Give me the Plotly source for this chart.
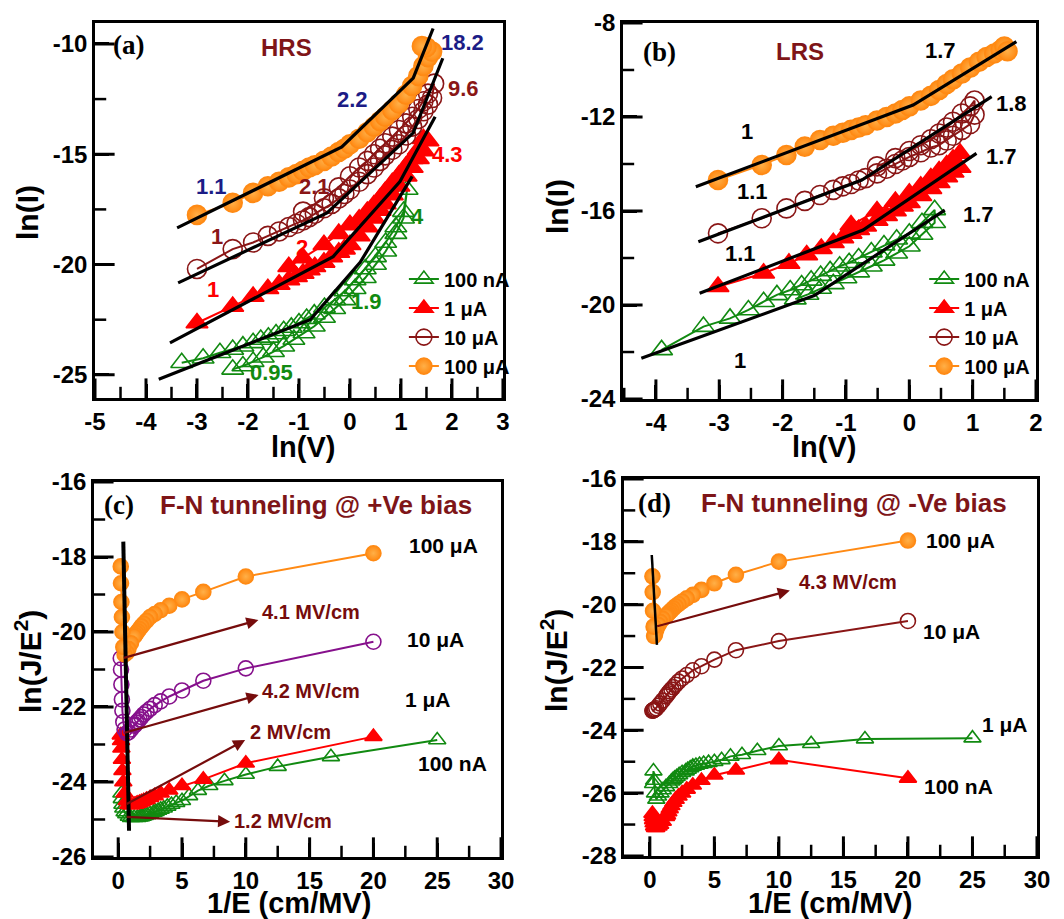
import plotly.graph_objects as go

FONT = "Liberation Sans"
SERIF = "Liberation Serif"

ORANGE = "#FF8A14"
ORANGE_HI = "#FFB048"
MAROON = "#8A1616"
RED = "#FF0000"
GREEN = "#118A11"
PURPLE = "#86108C"
TXT_RED = "#7E1518"
NAVY = "#1C1C86"
ARROW = "#760C0C"

# ---------------- Panel (a): HRS, ln(I) vs ln(V) ----------------
a_100nA_x = [-3.3, -2.88, -2.55, -2.3, -2.1, -1.9, -1.75, -1.6, -1.45, -1.3, -1.15, -1.0, -0.85, -0.7,
             -0.5, -0.3, -0.1, 0.1, 0.3, 0.5, 0.7, 0.9, 1.05, 1.12,
             1.05, 0.9, 0.7, 0.5, 0.3, 0.1, -0.1, -0.3, -0.5, -0.7, -0.9, -1.1, -1.3, -1.5, -1.7, -1.9, -2.1, -2.3]
a_100nA_y = [-24.45, -24.25, -24.0, -23.85, -23.7, -23.55, -23.4, -23.3, -23.15, -23.0, -22.85, -22.65, -22.45, -22.25,
             -21.95, -21.6, -21.2, -20.7, -20.2, -19.65, -19.0, -18.3, -17.6, -16.6,
             -17.9, -18.6, -19.4, -20.0, -20.6, -21.1, -21.6, -22.0, -22.4, -22.8, -23.1, -23.4, -23.7, -23.95, -24.2, -24.4, -24.6, -24.75]

a_1uA_x = [-3.0, -2.3, -1.9, -1.61, -1.39, -1.2, -1.05, -0.92, -0.8, -0.69, -0.51, -0.36, -0.22, -0.11, 0.0,
           0.18, 0.34, 0.47, 0.59, 0.69, 0.83, 0.96, 1.1, 1.22, 1.34, 1.44, 1.53,
           1.44, 1.34, 1.22, 1.1, 0.96, 0.83, 0.69, 0.59, 0.47, 0.34, 0.18, 0.0, -0.22, -0.51, -0.92, -1.2]
a_1uA_y = [-22.65, -21.9, -21.45, -21.1, -20.9, -20.7, -20.55, -20.4, -20.25, -20.1, -19.9, -19.65, -19.45, -19.3, -19.1,
           -18.7, -18.3, -17.9, -17.55, -17.25, -16.85, -16.45, -16.0, -15.6, -15.2, -14.85, -14.4,
           -14.3, -14.8, -15.2, -15.55, -15.95, -16.3, -16.7, -17.0, -17.3, -17.6, -17.95, -18.2, -18.6, -19.1, -19.7, -20.1]

a_10uA_x = [-3.0, -2.3, -1.9, -1.61, -1.39, -1.2, -1.05, -0.92, -0.8, -0.69, -0.51, -0.36, -0.22, -0.11, 0.0,
            0.18, 0.34, 0.47, 0.59, 0.69, 0.83, 0.96, 1.1, 1.22, 1.34, 1.44, 1.53, 1.61, 1.65,
            1.53, 1.44, 1.34, 1.22, 1.1, 0.96, 0.83, 0.69, 0.59, 0.47, 0.34, 0.18, 0.0, -0.22, -0.51, -0.92]
a_10uA_y = [-20.2, -19.3, -19.0, -18.7, -18.5, -18.3, -18.15, -18.0, -17.85, -17.7, -17.45, -17.25, -17.0, -16.8, -16.6,
            -16.25, -15.9, -15.6, -15.3, -15.05, -14.8, -14.55, -14.15, -13.75, -13.4, -13.05, -12.75, -12.45, -11.8,
            -12.25, -12.6, -12.95, -13.3, -13.6, -13.9, -14.2, -14.5, -14.75, -15.0, -15.3, -15.6, -16.0, -16.5, -17.0, -17.6]

a_100uA_x = [-3.0, -2.3, -1.9, -1.61, -1.39, -1.2, -1.05, -0.92, -0.8, -0.69, -0.51, -0.36, -0.22, -0.11, 0.0,
             0.18, 0.34, 0.47, 0.59, 0.69, 0.83, 0.96, 1.1, 1.22, 1.34, 1.44, 1.53, 1.61, 1.5, 1.41]
a_100uA_y = [-17.75, -17.2, -16.75, -16.45, -16.25, -16.05, -15.9, -15.75, -15.6, -15.5, -15.3, -15.1, -14.9, -14.75, -14.55,
             -14.3, -14.0, -13.75, -13.5, -13.3, -13.0, -12.7, -12.3, -11.9, -11.45, -11.0, -10.6, -10.35, -10.15, -10.1]

# piecewise linear fits (a)
a_fit_100uA_x = [-3.39, -0.16, 1.24, 1.63]
a_fit_100uA_y = [-18.34, -14.67, -11.55, -9.3]
a_fit_10uA_x = [-3.37, -0.45, 1.24, 1.82]
a_fit_10uA_y = [-20.83, -17.66, -14.03, -10.65]
a_fit_1uA_x = [-3.53, -0.33, 0.98, 1.67]
a_fit_1uA_y = [-23.55, -19.64, -16.24, -13.3]
a_fit_100nA_x = [-3.75, -0.78, 0.2, 1.22]
a_fit_100nA_y = [-25.2, -22.5, -19.9, -16.0]

# slope labels (a)
a_slope_text = ["18.2", "2.2", "1.1", "9.6", "2.1", "1", "4.3", "2", "1", "4", "1.9", "0.95"]
a_slope_x = [2.2, 0.04, -2.71, 2.22, -0.69, -2.61, 1.92, -0.94, -2.69, 1.33, 0.33, -1.53]
a_slope_y = [-9.95, -12.54, -16.48, -12.04, -16.48, -18.74, -15.03, -19.24, -21.15, -17.84, -21.69, -24.91]
a_slope_color = [NAVY, NAVY, NAVY, MAROON, MAROON, MAROON, RED, RED, RED, GREEN, GREEN, GREEN]

# ---------------- Panel (b): LRS ----------------
b_100nA_x = [-3.91, -3.25, -2.83, -2.54, -2.3, -2.09, -1.88, -1.7, -1.55, -1.4, -1.25, -1.1, -0.95, -0.8,
             -0.6, -0.4, -0.2, 0.0, 0.2, 0.4,
             0.4, 0.2, 0.0, -0.2, -0.4, -0.6, -0.8, -1.0, -1.2, -1.4, -1.6, -1.8]
b_100nA_y = [-21.91, -20.92, -20.57, -20.21, -19.86, -19.57, -19.36, -19.15, -18.95, -18.75, -18.55, -18.35, -18.2, -18.0,
             -17.75, -17.45, -17.2, -16.95, -16.5, -15.95,
             -16.5, -17.0, -17.5, -17.8, -18.1, -18.35, -18.6, -18.85, -19.1, -19.3, -19.55, -19.75]

b_1uA_x = [-3.02, -2.3, -1.9, -1.62, -1.39, -1.2, -1.05, -0.92, -0.8, -0.69, -0.51, -0.36, -0.22, -0.11, 0.0,
           0.18, 0.34, 0.47, 0.59, 0.69, 0.8,
           0.8, 0.69, 0.59, 0.47, 0.34, 0.18, 0.0, -0.22, -0.51, -0.92]
b_1uA_y = [-19.22, -18.65, -18.23, -17.87, -17.6, -17.35, -17.15, -16.95, -16.8, -16.65, -16.4, -16.2, -16.0, -15.8, -15.65,
           -15.35, -15.05, -14.8, -14.55, -14.35, -14.15,
           -13.55, -13.8, -14.05, -14.3, -14.6, -14.95, -15.25, -15.6, -16.0, -16.6]

b_10uA_x = [-3.02, -2.33, -1.94, -1.65, -1.41, -1.2, -1.05, -0.92, -0.8, -0.69, -0.51, -0.36, -0.22, -0.11, 0.0,
            0.18, 0.34, 0.47, 0.59, 0.69, 0.83, 0.96, 1.03,
            1.03, 0.96, 0.83, 0.69, 0.59, 0.47, 0.34, 0.18, 0.0, -0.22, -0.51]
b_10uA_y = [-16.95, -16.31, -15.89, -15.57, -15.32, -15.1, -14.95, -14.85, -14.7, -14.6, -14.4, -14.2, -14.0, -13.85, -13.7,
            -13.5, -13.3, -13.2, -13.0, -12.8, -12.55, -12.3, -11.9,
            -11.3, -11.55, -11.85, -12.2, -12.45, -12.7, -12.95, -13.2, -13.45, -13.75, -14.1]

b_100uA_x = [-3.02, -2.33, -1.94, -1.65, -1.41, -1.2, -1.05, -0.92, -0.8, -0.69, -0.51, -0.36, -0.22, -0.11, 0.0,
             0.18, 0.34, 0.47, 0.59, 0.69, 0.83, 0.96, 1.1, 1.22, 1.34, 1.44, 1.5, 1.55]
b_100uA_y = [-14.68, -14.04, -13.62, -13.26, -12.98, -12.8, -12.67, -12.55, -12.45, -12.35, -12.15, -12.0, -11.85, -11.7, -11.55,
             -11.3, -11.1, -10.85, -10.6, -10.4, -10.15, -9.9, -9.65, -9.45, -9.3, -9.15, -9.0, -9.2]

b_fit_100uA_x = [-3.37, 0.06, 1.69]
b_fit_100uA_y = [-14.97, -11.49, -8.79]
b_fit_10uA_x = [-3.33, -0.75, 1.3]
b_fit_10uA_y = [-17.31, -14.68, -11.13]
b_fit_1uA_x = [-3.31, -0.73, 1.06]
b_fit_1uA_y = [-19.5, -16.81, -13.55]
b_fit_100nA_x = [-4.23, -1.5, 0.56]
b_fit_100nA_y = [-22.27, -19.6, -15.96]

b_slope_text = ["1.7", "1", "1.1", "1.8", "1.7", "1.1", "1.7", "1"]
b_slope_x = [0.5, -2.57, -2.47, 1.62, 1.46, -2.67, 1.09, -2.67]
b_slope_y = [-9.15, -12.63, -15.18, -11.42, -13.69, -17.8, -16.17, -22.34]

# ---------------- Panel (c): F-N, +Ve bias ----------------
c_invE_a = [20, 10, 6.67, 5, 4, 3.33, 2.86, 2.5, 2.22, 2.0, 1.82, 1.67, 1.54, 1.43, 1.33, 1.25,
            1.0, 0.8, 0.67, 0.5, 0.4, 0.33, 0.29, 0.25, 0.22, 0.2]
c_invE_b = [25, 16.67, 12.5, 10, 8.33, 7.14, 6.25, 5.56, 5, 4.55, 4.17, 3.85, 3.57, 3.33, 3.13, 2.94, 2.78,
            2.5, 2.27, 2.08, 1.92, 1.79, 1.67, 1.5, 1.25, 1.0, 0.83, 0.63, 0.5, 0.4, 0.33, 0.28, 0.25]
c_100uA_y = [-17.9, -18.52, -18.93, -19.13, -19.3, -19.42, -19.52, -19.6, -19.7, -19.78, -19.85, -19.92, -19.98, -20.03,
             -20.08, -20.12, -20.3, -20.45, -20.55, -20.6, -20.4, -20.0, -19.6, -19.2, -18.7, -18.25]
c_10uA_y = [-20.26, -20.97, -21.3, -21.56, -21.72, -21.85, -21.95, -22.05, -22.13, -22.2, -22.27, -22.33, -22.38, -22.42,
            -22.47, -22.5, -22.6, -22.68, -22.7, -22.6, -22.4, -22.1, -21.8, -21.4, -21.0, -20.7]
c_1uA_y = [-22.79, -23.5, -23.93, -24.1, -24.22, -24.3, -24.37, -24.42, -24.47, -24.5, -24.53, -24.55, -24.57, -24.58,
           -24.6, -24.6, -24.62, -24.6, -24.5, -24.3, -24.0, -23.7, -23.4, -23.1, -22.9, -22.75]
c_100nA_y = [-22.88, -23.33, -23.59, -23.8, -23.97, -24.1, -24.23, -24.37, -24.5, -24.55, -24.6, -24.65, -24.7, -24.73,
             -24.76, -24.79, -24.81, -24.85, -24.88, -24.9, -24.92, -24.93, -24.94, -24.95, -24.95, -24.95, -24.92,
             -24.85, -24.8, -24.7, -24.6, -24.45, -24.3]
c_vline_x = [0.4, 0.85]
c_vline_y = [-17.59, -25.3]
c_arrow_tail_x = [0.33, 0.38, 0.55, 0.55]
c_arrow_tail_y = [-20.7, -22.7, -24.61, -24.93]
c_arrow_head_x = [10.99, 11.0, 9.95, 8.77]
c_arrow_head_y = [-19.68, -21.68, -22.88, -25.06]
c_arrow_text = ["4.1 MV/cm", "4.2 MV/cm", "2 MV/cm", "1.2 MV/cm"]
c_arrow_text_x = [11.1, 11.1, 10.2, 8.9]
c_arrow_text_y = [-19.48, -21.57, -22.66, -25.03]
c_label_text = ["100 μA", "10 μA", "1 μA", "100 nA"]
c_label_x = [25.5, 24.9, 24.3, 26.2]
c_label_y = [-17.68, -20.2, -21.81, -23.5]

# ---------------- Panel (d): F-N, -Ve bias ----------------
d_invE_a = [20, 10, 6.67, 5, 4, 3.33, 2.86, 2.5, 2.22, 2.0, 1.82, 1.67, 1.54, 1.43, 1.33, 1.25,
            1.0, 0.8, 0.67, 0.5, 0.4, 0.33, 0.29, 0.25, 0.22, 0.2]
d_invE_b = [25, 16.67, 12.5, 10, 8.33, 7.14, 6.25, 5.56, 5, 4.55, 4.17, 3.85, 3.57, 3.33, 3.13, 2.94, 2.78,
            2.5, 2.27, 2.08, 1.92, 1.79, 1.67, 1.5, 1.25, 1.0, 0.83, 0.63, 0.5, 0.4, 0.33, 0.28, 0.25]
d_100uA_y = [-17.96, -18.63, -19.05, -19.32, -19.53, -19.69, -19.8, -19.9, -19.98, -20.05, -20.12, -20.18, -20.23,
             -20.28, -20.32, -20.36, -20.45, -20.55, -20.65, -20.8, -20.95, -21.0, -20.7, -20.2, -19.6, -19.1]
d_10uA_y = [-20.52, -21.16, -21.45, -21.75, -21.96, -22.09, -22.24, -22.35, -22.45, -22.55, -22.63, -22.7, -22.76,
            -22.82, -22.87, -22.92, -23.05, -23.15, -23.22, -23.3, -23.33, -23.35, -23.36, -23.37, -23.37, -23.38]
d_1uA_y = [-24.25, -24.28, -24.43, -24.5, -24.65, -24.78, -24.83, -24.94, -25.0, -25.03, -25.06, -25.09, -25.12,
           -25.15, -25.2, -25.25, -25.3, -25.35, -25.42, -25.48, -25.53, -25.58, -25.62, -25.7, -25.8, -25.9,
           -26.0, -26.1, -26.2, -26.0, -25.6, -25.3, -25.7]
d_100nA_y = [-25.53, -24.94, -25.27, -25.43, -25.6, -25.75, -25.88, -26.0, -26.1, -26.2, -26.3, -26.4, -26.5,
             -26.6, -26.7, -26.75, -26.9, -27.0, -27.05, -27.1, -27.1, -27.05, -26.95, -26.85, -26.75, -26.65]
d_vline_x = [0.15, 0.55]
d_vline_y = [-18.42, -21.28]
d_arrow_tail_x = [0.45]
d_arrow_tail_y = [-20.7]
d_arrow_head_x = [10.85]
d_arrow_head_y = [-19.55]
d_arrow_text = ["4.3 MV/cm"]
d_arrow_text_x = [11.4]
d_arrow_text_y = [-19.29]
d_label_text = ["100 μA", "10 μA", "1 μA", "100 nA"]
d_label_x = [24.1, 23.4, 27.5, 23.9]
d_label_y = [-17.95, -20.86, -23.83, -25.79]

# ---------------- axis ticks ----------------
a_xticks = [-5, -4, -3, -2, -1, 0, 1, 2, 3]
a_xminor = [-4.5, -3.5, -2.5, -1.5, -0.5, 0.5, 1.5, 2.5]
a_yticks = [-25, -20, -15, -10]
a_yminor = [-22.5, -17.5, -12.5]
b_xticks = [-4, -3, -2, -1, 0, 1, 2]
b_xminor = [-4.5, -3.5, -2.5, -1.5, -0.5, 0.5, 1.5]
b_yticks = [-24, -20, -16, -12, -8]
b_yminor = [-22, -18, -14, -10]
cd_xticks = [0, 5, 10, 15, 20, 25, 30]
cd_xminor = [2.5, 7.5, 12.5, 17.5, 22.5, 27.5]
c_yticks = [-26, -24, -22, -20, -18, -16]
c_yminor = [-25, -23, -21, -19, -17]
d_yticks = [-28, -26, -24, -22, -20, -18, -16]
d_yminor = [-27, -25, -23, -21, -19, -17]

W, H = 1064.0, 919.0
PANELS = {
    # name: (x domain, x range, y domain, y range)
    "a": ([0.0893, 0.4727], [-5, 3], [0.5669, 0.975], [-26.05, -9.05]),
    "b": ([0.5855, 0.9737], [-4.52, 2], [0.5658, 0.975], [-24, -8]),
    "c": ([0.0883, 0.4709], [-1.9, 30], [0.0675, 0.4755], [-26, -16]),
    "d": ([0.5865, 0.9746], [-2.0, 30], [0.0686, 0.4788], [-28, -16]),
}

fig = go.Figure()


def series(x, y, xa, ya, name, symbol, color, size, legend=None, lw=1.6, sphere=False, line_w=2):
    marker = dict(symbol=symbol, size=size, color=color, line=dict(color=color, width=lw))
    if sphere:
        marker["gradient"] = dict(type="radial", color=ORANGE_HI)
    fig.add_trace(go.Scatter(
        x=x, y=y, xaxis=xa, yaxis=ya, name=name, mode="lines+markers",
        line=dict(color=color, width=line_w), marker=marker,
        showlegend=legend is not None, legend=legend if legend else "legend",
    ))


def fit(x, y, xa, ya, width=3.2):
    fig.add_trace(go.Scatter(x=x, y=y, xaxis=xa, yaxis=ya, mode="lines",
                             line=dict(color="black", width=width), showlegend=False, hoverinfo="skip"))


# panel (a)
series(a_100nA_x, a_100nA_y, "x", "y", "100 nA", "triangle-up-open", GREEN, 19, "legend")
series(a_1uA_x, a_1uA_y, "x", "y", "1 μA", "triangle-up", RED, 19, "legend")
series(a_10uA_x, a_10uA_y, "x", "y", "10 μA", "circle-open", MAROON, 19, "legend")
series(a_100uA_x, a_100uA_y, "x", "y", "100 μA", "circle", ORANGE, 19, "legend", sphere=True)
for fx, fy in [(a_fit_100uA_x, a_fit_100uA_y), (a_fit_10uA_x, a_fit_10uA_y),
               (a_fit_1uA_x, a_fit_1uA_y), (a_fit_100nA_x, a_fit_100nA_y)]:
    fit(fx, fy, "x", "y")

# panel (b)
series(b_100nA_x, b_100nA_y, "x2", "y2", "100 nA", "triangle-up-open", GREEN, 19, "legend2")
series(b_1uA_x, b_1uA_y, "x2", "y2", "1 μA", "triangle-up", RED, 19, "legend2")
series(b_10uA_x, b_10uA_y, "x2", "y2", "10 μA", "circle-open", MAROON, 19, "legend2")
series(b_100uA_x, b_100uA_y, "x2", "y2", "100 μA", "circle", ORANGE, 19, "legend2", sphere=True)
for fx, fy in [(b_fit_100uA_x, b_fit_100uA_y), (b_fit_10uA_x, b_fit_10uA_y),
               (b_fit_1uA_x, b_fit_1uA_y), (b_fit_100nA_x, b_fit_100nA_y)]:
    fit(fx, fy, "x2", "y2")

# panel (c)
series(c_invE_b, c_100nA_y, "x3", "y3", "100 nA", "triangle-up-open", GREEN, 15)
series(c_invE_a, c_1uA_y, "x3", "y3", "1 μA", "triangle-up", RED, 15)
series(c_invE_a, c_10uA_y, "x3", "y3", "10 μA", "circle-open", PURPLE, 15)
series(c_invE_a, c_100uA_y, "x3", "y3", "100 μA", "circle", ORANGE, 15, sphere=True)
fit(c_vline_x, c_vline_y, "x3", "y3", width=4)

# panel (d)
series(d_invE_a, d_100nA_y, "x4", "y4", "100 nA", "triangle-up", RED, 15)
series(d_invE_b, d_1uA_y, "x4", "y4", "1 μA", "triangle-up-open", GREEN, 15)
series(d_invE_a, d_10uA_y, "x4", "y4", "10 μA", "circle-open", MAROON, 15)
series(d_invE_a, d_100uA_y, "x4", "y4", "100 μA", "circle", ORANGE, 15, sphere=True)
fit(d_vline_x, d_vline_y, "x4", "y4", width=2.5)


# inward tick marks as line-shaped markers centred on the frame; the outer half is clipped
def tick_marks(panel, xa, ya, xmaj, xmin, ymaj, ymin):
    xd, xr, yd, yr = PANELS[panel]
    for vals, L, w in [(xmaj, 14, 3), (xmin, 8, 2.5)]:
        fig.add_trace(go.Scatter(x=vals, y=[yr[0]] * len(vals), xaxis=xa, yaxis=ya, mode="markers",
                                 marker=dict(symbol="line-ns", size=2 * L, color="black",
                                             line=dict(color="black", width=w)),
                                 cliponaxis=True, showlegend=False, hoverinfo="skip"))
    for vals, L, w in [(ymaj, 14, 3), (ymin, 8, 2.5)]:
        fig.add_trace(go.Scatter(x=[xr[0]] * len(vals), y=vals, xaxis=xa, yaxis=ya, mode="markers",
                                 marker=dict(symbol="line-ew", size=2 * L, color="black",
                                             line=dict(color="black", width=w)),
                                 cliponaxis=True, showlegend=False, hoverinfo="skip"))


tick_marks("a", "x", "y", a_xticks, a_xminor, a_yticks, a_yminor)
tick_marks("b", "x2", "y2", b_xticks, b_xminor, b_yticks, b_yminor)
tick_marks("c", "x3", "y3", cd_xticks, cd_xminor, c_yticks, c_yminor)
tick_marks("d", "x4", "y4", cd_xticks, cd_xminor, d_yticks, d_yminor)

ann = []


def text(t, x, y, xr, yr, size=20, color="black", family=FONT, xanchor="center", angle=0):
    ann.append(dict(text=t, x=x, y=y, xref=xr, yref=yr, showarrow=False, xanchor=xanchor, yanchor="middle",
                    textangle=angle, font=dict(family=family, size=size, color=color, weight="bold")))


for t, x, y, c in zip(a_slope_text, a_slope_x, a_slope_y, a_slope_color):
    text(t, x, y, "x", "y", 22, c)
for t, x, y in zip(b_slope_text, b_slope_x, b_slope_y):
    text(t, x, y, "x2", "y2", 22, "black")

text("(a)", -4.35, -10.05, "x", "y", 27, "black", SERIF)
text("HRS", -1.24, -10.18, "x", "y", 24, TXT_RED)
text("(b)", -3.95, -9.22, "x2", "y2", 27, "black", SERIF)
text("LRS", -1.72, -9.22, "x2", "y2", 24, TXT_RED)
text("(c)", 0.08, -16.61, "x3", "y3", 27, "black", SERIF)
text("F-N tunneling @ +Ve bias", 15.5, -16.61, "x3", "y3", 26, TXT_RED)
text("(d)", 0.39, -16.76, "x4", "y4", 27, "black", SERIF)
text("F-N tunneling @ -Ve bias", 15.85, -16.76, "x4", "y4", 26, TXT_RED)

for t, x, y in zip(c_label_text, c_label_x, c_label_y):
    text(t, x, y, "x3", "y3", 21)
for t, x, y in zip(d_label_text, d_label_x, d_label_y):
    text(t, x, y, "x4", "y4", 21)

# axis titles (paper coordinates)
x_titles = [("ln(V)", 303, 447), ("ln(V)", 824, 447), ("1/E (cm/MV)", 289, 903), ("1/E (cm/MV)", 830, 903)]
y_titles = [("ln(I)", 28, 213), ("ln(I)", 557, 207), ("ln(J/E<sup>2</sup>)", 28, 662), ("ln(J/E<sup>2</sup>)", 554, 661)]
for t, px, py in x_titles:
    text(t, px / W, 1 - py / H, "paper", "paper", 29)
for t, px, py in y_titles:
    text(t, px / W, 1 - py / H, "paper", "paper", 30, angle=-90)


def arrows(tx, ty, hx, hy, labels, lx, ly, xr, yr):
    for i in range(len(tx)):
        ann.append(dict(x=hx[i], y=hy[i], ax=tx[i], ay=ty[i], xref=xr, yref=yr, axref=xr, ayref=yr,
                        text="", showarrow=True, arrowhead=2, arrowsize=1.1, arrowwidth=2.2, arrowcolor=ARROW))
        text(labels[i], lx[i], ly[i], xr, yr, 20, ARROW, xanchor="left")


arrows(c_arrow_tail_x, c_arrow_tail_y, c_arrow_head_x, c_arrow_head_y, c_arrow_text, c_arrow_text_x,
       c_arrow_text_y, "x3", "y3")
arrows(d_arrow_tail_x, d_arrow_tail_y, d_arrow_head_x, d_arrow_head_y, d_arrow_text, d_arrow_text_x,
       d_arrow_text_y, "x4", "y4")


def fmt(v):
    return ("-" if v < 0 else "") + ("%g" % abs(v))


def axis(domain, rng, tickvals, anchor):
    return dict(domain=domain, range=rng, anchor=anchor, automargin=False,
                tickmode="array", tickvals=tickvals, ticktext=[fmt(v) for v in tickvals],
                ticks="inside", ticklen=14, tickwidth=3, tickcolor="black",
                showline=True, linewidth=2.5, linecolor="#000000", mirror=True,
                showgrid=False, zeroline=False,
                tickfont=dict(family=FONT, size=24, color="black", weight="bold"))


legend_font = dict(family=FONT, size=20, color="black", weight="bold")
fig.update_layout(
    template="none",
    width=1064, height=919, autosize=False,
    margin=dict(l=0, r=0, t=0, b=0),
    paper_bgcolor="white", plot_bgcolor="white",
    xaxis=axis(PANELS["a"][0], PANELS["a"][1], a_xticks, "y"),
    yaxis=axis(PANELS["a"][2], PANELS["a"][3], a_yticks, "x"),
    xaxis2=axis(PANELS["b"][0], PANELS["b"][1], b_xticks, "y2"),
    yaxis2=axis(PANELS["b"][2], PANELS["b"][3], b_yticks, "x2"),
    xaxis3=axis(PANELS["c"][0], PANELS["c"][1], cd_xticks, "y3"),
    yaxis3=axis(PANELS["c"][2], PANELS["c"][3], c_yticks, "x3"),
    xaxis4=axis(PANELS["d"][0], PANELS["d"][1], cd_xticks, "y4"),
    yaxis4=axis(PANELS["d"][2], PANELS["d"][3], d_yticks, "x4"),
    legend=dict(x=0.3796, y=0.7175, xanchor="left", yanchor="top", bgcolor="rgba(0,0,0,0)",
                font=legend_font, itemwidth=30, tracegroupgap=0, traceorder="normal"),
    legend2=dict(x=0.8686, y=0.7175, xanchor="left", yanchor="top", bgcolor="rgba(0,0,0,0)",
                 font=legend_font, itemwidth=30, tracegroupgap=0, traceorder="normal"),
    annotations=ann,
    showlegend=True,
)

fig.write_html("out.html", config={"displayModeBar": False},
               post_script="document.body.style.margin='0px';document.body.style.overflow='hidden';")
